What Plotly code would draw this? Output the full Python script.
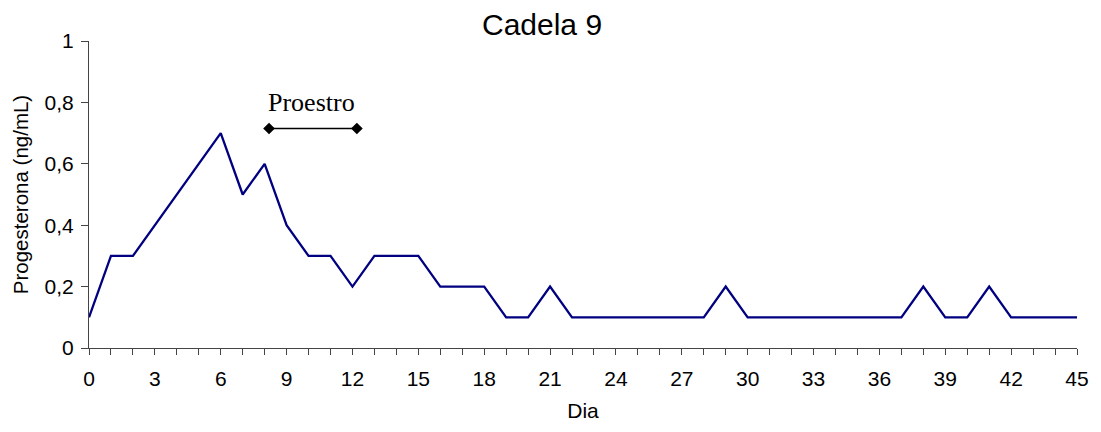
import plotly.graph_objects as go

dias = list(range(0, 46))
progesterona = [0.1, 0.3, 0.3, 0.4, 0.5, 0.6, 0.7, 0.5, 0.6, 0.4,
                0.3, 0.3, 0.2, 0.3, 0.3, 0.3, 0.2, 0.2, 0.2, 0.1,
                0.1, 0.2, 0.1, 0.1, 0.1, 0.1, 0.1, 0.1, 0.1, 0.2,
                0.1, 0.1, 0.1, 0.1, 0.1, 0.1, 0.1, 0.1, 0.2, 0.1,
                0.1, 0.2, 0.1, 0.1, 0.1, 0.1]
x_ticks = list(range(0, 46, 3))
y_ticks = [0, 0.2, 0.4, 0.6, 0.8, 1]
y_ticklabels = ["0", "0,2", "0,4", "0,6", "0,8", "1"]
proestro_x = [8.2, 12.2]
proestro_y = [0.715, 0.715]

fig = go.Figure()
fig.add_trace(go.Scatter(x=dias, y=progesterona, mode="lines",
                         line=dict(color="#000080", width=2.3), showlegend=False,
                         cliponaxis=False))
fig.add_trace(go.Scatter(x=proestro_x, y=proestro_y, mode="lines+markers",
                         line=dict(color="black", width=1.5),
                         marker=dict(symbol="diamond", size=9, color="black"),
                         showlegend=False))
fig.add_annotation(x=sum(proestro_x) / 2 - 0.05, y=0.80, text="Proestro", showarrow=False,
                   font=dict(family="Liberation Serif", size=26, color="black"),
                   yanchor="middle")

fig.update_layout(
    width=1093, height=424,
    margin=dict(l=81, r=21, t=33, b=84),
    paper_bgcolor="white", plot_bgcolor="white",
    title=dict(text="Cadela 9", x=0.4886, xanchor="center", xref="container",
               y=0.962, yanchor="middle", yref="container",
               font=dict(family="Liberation Sans", size=30, color="black")),
    font=dict(family="Liberation Sans", color="black"),
    xaxis=dict(range=[0, 45], tickvals=x_ticks, showgrid=False, zeroline=False,
               showline=True, linecolor="#444444", linewidth=1,
               ticks="outside", ticklen=6, tickcolor="#444444",
               minor=dict(dtick=1, ticks="outside", ticklen=6, tickcolor="#444444"),
               tickfont=dict(size=21), ticklabelstandoff=6,
               title=dict(text="Dia", font=dict(size=21), standoff=14)),
    yaxis=dict(range=[0, 1], tickvals=y_ticks, ticktext=y_ticklabels, showgrid=False,
               zeroline=False, showline=True, linecolor="#444444", linewidth=1,
               ticks="outside", ticklen=7, tickcolor="#444444",
               tickfont=dict(size=21), ticklabelstandoff=3,
               title=dict(text="Progesterona (ng/mL)", font=dict(size=20.5), standoff=10)),
)

fig.write_html("out.html")
